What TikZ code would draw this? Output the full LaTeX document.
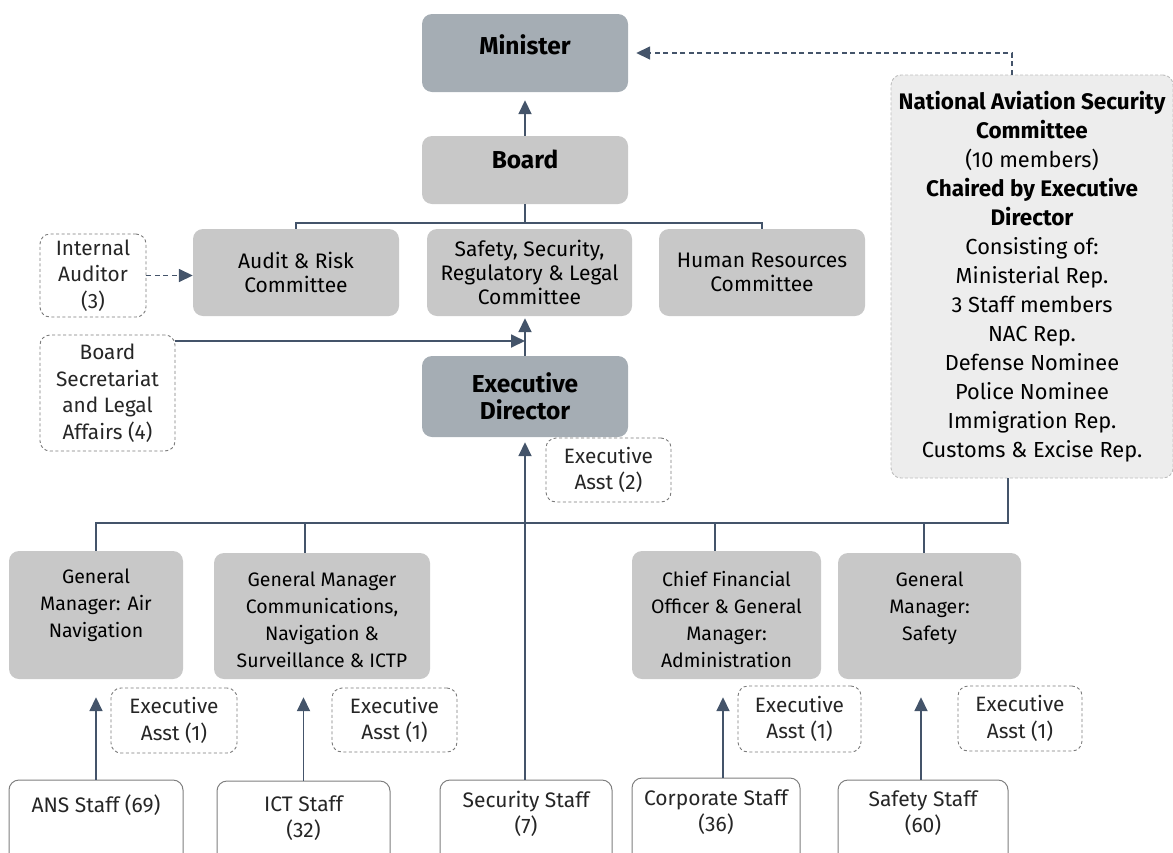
\documentclass[tikz,border=0pt]{standalone}
\usepackage{fontspec}
\setmainfont{Fira Sans}
\usetikzlibrary{arrows.meta,calc}
\definecolor{lncol}{HTML}{44546A}
\definecolor{dkfill}{HTML}{A5ADB4}
\definecolor{mdfill}{HTML}{C8C8C8}
\definecolor{nafill}{HTML}{EDEDED}
\definecolor{nadraw}{HTML}{BDBDBD}
\definecolor{dbcol}{HTML}{7A7A7A}
\definecolor{sfcol}{HTML}{7F7F7F}
\definecolor{txlight}{HTML}{262626}
\newcommand\tb[4]{\parbox[c][#1][t]{#2}{\centering\vspace*{#3}#4\par}}
\newcommand\nabf[1]{{\fontsize{22.5}{29}\selectfont\bfseries #1}}
\begin{document}
\begin{tikzpicture}[x=1pt,y=-1pt,
  base/.style={inner sep=0pt, rounded corners=10pt, text=black},
  dk/.style={base, align=center, fill=dkfill, font=\fontsize{24.5}{27}\selectfont\bfseries},
  dkp/.style={base, fill=dkfill, font=\fontsize{24.5}{27}\selectfont\bfseries},
  mdp/.style={base, fill=mdfill, font=\fontsize{24.5}{27}\selectfont\bfseries},
  md/.style={base, align=center, fill=mdfill, font=\fontsize{21}{24}\selectfont},
  gm/.style={base, fill=mdfill, font=\fontsize{19.5}{27}\selectfont},
  db/.style={base, align=center, draw=dbcol, line width=0.9pt, dash pattern=on 3pt off 2.5pt, fill=white, text=txlight, font=\fontsize{20.8}{26.5}\selectfont},
  sf/.style={base, draw=sfcol, line width=1pt, fill=white, text=txlight, font=\fontsize{21}{26}\selectfont},
  na/.style={base, align=center, fill=nafill, draw=nadraw, line width=0.9pt, dash pattern=on 3pt off 2pt, font=\fontsize{21.8}{29}\selectfont},
  ln/.style={draw=lncol, line width=1.8pt},
  arr/.style={ln, -{Triangle[length=14pt,width=13pt]}},
  darr/.style={draw=lncol, line width=1.6pt, dash pattern=on 5pt off 3.5pt, -{Triangle[length=14pt,width=13pt]}}
]
\useasboundingbox (0,0) rectangle (1173,852);

% top level
\node[dkp, minimum width=206pt, minimum height=78pt] (min) at (525,53) {\tb{78pt}{200pt}{21pt}{Minister}};
\node[mdp, minimum width=206pt, minimum height=68pt] (board) at (525,170) {\tb{68pt}{200pt}{14pt}{Board}};

% committees
\node[md, minimum width=206pt, minimum height=87pt] (audit) at (296,272.5) {Audit \& Risk\\Committee};
\node[md, minimum width=205pt, minimum height=87pt] (ssr) at (529.5,272.5) {Safety, Security,\\Regulatory \& Legal\\Committee};
\node[md, minimum width=206pt, minimum height=87pt] (hr) at (762,272.5) {Human Resources\\Committee};
\node[db, minimum width=106pt, minimum height=83pt] (ia) at (93,275.5) {Internal\\Auditor\\(3)};
\node[db, minimum width=135pt, minimum height=116pt] (bs) at (107.5,393) {Board\\Secretariat\\and Legal\\Affairs (4)};

% executive director
\node[dk, minimum width=206pt, minimum height=81pt] (ed) at (525,396.5) {Executive\\Director};
\node[db, minimum width=125pt, minimum height=64pt] (ea2) at (608.5,470) {Executive\\Asst (2)};

% NASC
\node[na, minimum width=282pt, minimum height=403pt] (nasc) at (1032,276.5) {\nabf{National Aviation Security}\\\nabf{Committee}\\(10 members)\\\nabf{Chaired by Executive}\\\nabf{Director}\\Consisting of:\\Ministerial Rep.\\3 Staff members\\NAC Rep.\\Defense Nominee\\Police Nominee\\Immigration Rep.\\Customs \& Excise Rep.};

% general managers
\node[gm, minimum width=174pt, minimum height=128pt] (gm1) at (96,615) {\tb{128pt}{170pt}{18pt}{General\\Manager: Air\\Navigation}};
\node[gm, minimum width=216pt, minimum height=126pt] (gm2) at (322,616) {\tb{126pt}{212pt}{19pt}{General Manager\\Communications,\\Navigation \&\\Surveillance \& ICTP}};
\node[gm, minimum width=189pt, minimum height=128pt] (cfo) at (726.5,615) {\tb{128pt}{185pt}{20pt}{Chief Financial\\Officer \& General\\Manager:\\Administration}};
\node[gm, minimum width=183pt, minimum height=126pt] (gm4) at (929.5,616) {\tb{126pt}{179pt}{19pt}{General\\Manager:\\Safety}};

% executive assistants
\node[db, minimum width=126pt, minimum height=65pt] (eaa) at (174,720.5) {Executive\\Asst (1)};
\node[db, minimum width=125pt, minimum height=64pt] (eab) at (394.5,720) {Executive\\Asst (1)};
\node[db, minimum width=123pt, minimum height=66pt] (eac) at (799.5,719) {Executive\\Asst (1)};
\node[db, minimum width=124pt, minimum height=65pt] (ead) at (1020,718.5) {Executive\\Asst (1)};

% staff
\node[sf, minimum width=174pt, minimum height=90pt] (ans) at (96,825) {\tb{90pt}{170pt}{15pt}{ANS Staff (69)}};
\node[sf, minimum width=173pt, minimum height=90pt] (ict) at (303.5,826) {\tb{90pt}{169pt}{15pt}{ICT Staff\\(32)}};
\node[sf, minimum width=172pt, minimum height=90pt] (sec) at (526,825) {\tb{90pt}{168pt}{11pt}{Security Staff\\(7)}};
\node[sf, minimum width=168pt, minimum height=90pt] (corp) at (716,823) {\tb{90pt}{164pt}{12pt}{Corporate Staff\\(36)}};
\node[sf, minimum width=170pt, minimum height=90pt] (safe) at (923,825) {\tb{90pt}{166pt}{11pt}{Safety Staff\\(60)}};

% connectors
\coordinate (bt) at (525,223);
\coordinate (lt) at (0,523);
\draw[arr, shorten >=8pt] (board.north) -- (min.south);
\draw[ln] (board.south) -- (bt);
\draw[ln] (audit.north) |- (bt) -| (hr.north);
\draw[arr, shorten >=2pt] (ed.north) -- (ed.north |- ssr.south);
\draw[darr] (ia.east) -- (ia.east -| audit.west);
\draw[arr] ([yshift=52pt]bs.east) -- ([yshift=52pt]bs.east -| ed.north);
\draw[darr, shorten >=8pt] ([xshift=-20pt]nasc.north) |- (min.east);
\draw[arr, shorten >=5pt] (ed.south |- sec.north) -- (ed.south);
\draw[ln] (gm1.north) |- ([xshift=-24pt]nasc.south |- lt) -- ([xshift=-24pt]nasc.south);
\draw[ln] ([xshift=-17pt]gm2.north) -- ([xshift=-17pt]gm2.north |- lt);
\draw[ln] ([xshift=-11.5pt]cfo.north) -- ([xshift=-11.5pt]cfo.north |- lt);
\draw[ln] ([xshift=-5.5pt]gm4.north) -- ([xshift=-5.5pt]gm4.north |- lt);
\draw[arr, shorten >=18pt] (ans.north) -- (ans.north |- gm1.south);
\draw[arr, shorten >=18pt] (ict.north) -- (ict.north |- gm2.south);
\draw[arr, shorten >=18pt] ([xshift=7pt]corp.north) -- ([xshift=7pt]corp.north |- cfo.south);
\draw[arr, shorten >=18pt] ([xshift=-2pt]safe.north) -- ([xshift=-2pt]safe.north |- gm4.south);
\end{tikzpicture}
\end{document}
